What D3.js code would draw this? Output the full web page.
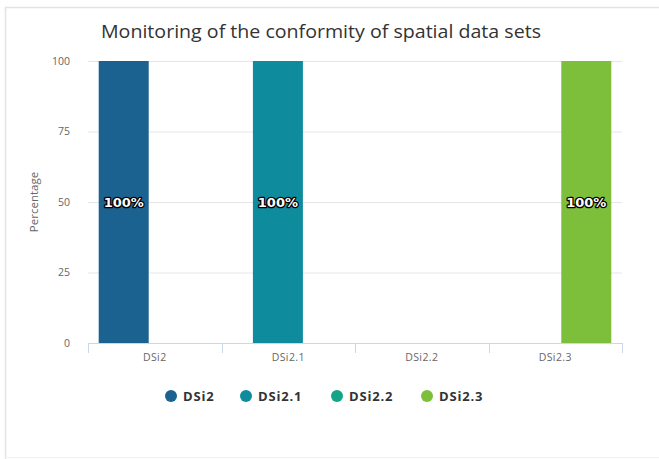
<!DOCTYPE html>
<html>
<head>
<meta charset="utf-8">
<script src="https://cdn.jsdelivr.net/npm/d3@7"></script>
<style>
  html, body { margin: 0; padding: 0; background: #fff; }
  svg { display: block; font-family: "Open Sans", "DejaVu Sans", sans-serif; }
</style>
</head>
<body>
<svg id="chart" width="659" height="459"></svg>
<script>
const categories = ["DSi2", "DSi2.1", "DSi2.2", "DSi2.3"];
const seriesNames = ["DSi2", "DSi2.1", "DSi2.2", "DSi2.3"];
const seriesColors = ["#1b6290", "#0e8c9e", "#14a589", "#7dbf3b"];
const valuesDSi2 = [100, null, null, null];
const valuesDSi21 = [null, 100, null, null];
const valuesDSi22 = [null, null, null, null];
const valuesDSi23 = [null, null, null, 100];
const yTicks = [0, 25, 50, 75, 100];
const titleText = "Monitoring of the conformity of spatial data sets";
const yTitle = "Percentage";

const seriesValues = [valuesDSi2, valuesDSi21, valuesDSi22, valuesDSi23];

const svg = d3.select("#chart");
const W = 659, H = 459;

// page frame
svg.append("line").attr("x1", 5).attr("x2", W).attr("y1", 7.5).attr("y2", 7.5).attr("stroke", "#e3e3e3").attr("stroke-width", 1.5);
svg.append("line").attr("x1", 5.5).attr("x2", 5.5).attr("y1", 7).attr("y2", H).attr("stroke", "#e3e3e3").attr("stroke-width", 1.5);
svg.append("line").attr("x1", 5).attr("x2", W).attr("y1", 457.5).attr("y2", 457.5).attr("stroke", "#f0f0f0").attr("stroke-width", 1);

const plot = { left: 88, right: 622, top: 61, bottom: 343 };

const x = d3.scaleBand().domain(categories).range([plot.left, plot.right]).padding(0);
const groupPadding = 0.19;
const xInner = d3.scaleBand().domain(seriesNames)
  .range([x.bandwidth() * groupPadding, x.bandwidth() * (1 - groupPadding)]).padding(0);
const y = d3.scaleLinear().domain([0, 100]).range([plot.bottom, plot.top]);
const pointWidth = 50;

// title
svg.append("text").attr("x", 321).attr("y", 38).attr("text-anchor", "middle")
  .attr("font-size", 17.5).attr("fill", "#333").attr("font-family", "'Open Sans', sans-serif")
  .attr("textLength", 440).attr("lengthAdjust", "spacingAndGlyphs")
  .text(titleText);

// gridlines
const yAxis = d3.axisLeft(y).tickValues(yTicks).tickSize(-(plot.right - plot.left)).tickPadding(18).tickFormat(d3.format("d"));
const gy = svg.append("g").attr("transform", `translate(${plot.left},0)`).call(yAxis);
gy.select(".domain").remove();
gy.selectAll(".tick line").attr("stroke", "#e6e6e6").attr("stroke-width", 1);
gy.selectAll(".tick text").attr("fill", "#666").attr("font-size", 10.5).attr("font-family", "'Open Sans', sans-serif");

// y title
svg.append("text").attr("transform", `translate(38,${(plot.top + plot.bottom) / 2}) rotate(-90)`)
  .attr("text-anchor", "middle").attr("font-size", 11.5).attr("fill", "#666").text(yTitle);

// bars
seriesNames.forEach((s, i) => {
  const vals = seriesValues[i];
  const g = svg.append("g");
  categories.forEach((c, j) => {
    const v = vals[j];
    if (v == null) return;
    const cx = x(c) + xInner(s) + xInner.bandwidth() / 2;
    g.append("rect")
      .attr("x", cx - pointWidth / 2).attr("width", pointWidth)
      .attr("y", y(v)).attr("height", y(0) - y(v))
      .attr("fill", seriesColors[i]);
    const ty = (y(v) + y(0)) / 2 + 5;
    g.append("text").attr("x", cx).attr("y", ty).attr("text-anchor", "middle")
      .attr("font-size", 13).attr("font-weight", "bold").attr("fill", "#fff")
      .attr("stroke", "#000").attr("stroke-width", 2.5).attr("stroke-linejoin", "round")
      .attr("paint-order", "stroke").attr("font-family", "'DejaVu Sans', sans-serif")
      .text(v + "%");
  });
});

// x axis
const xAxis = d3.axisBottom(x).tickSize(0).tickPadding(11);
const gx = svg.append("g").attr("transform", `translate(0,${plot.bottom})`).call(xAxis);
gx.select(".domain").attr("stroke", "#ccd6eb");
gx.selectAll(".tick text").attr("fill", "#666").attr("font-size", 10.5)
  .attr("letter-spacing", 0.4).attr("font-family", "'Open Sans', sans-serif");
// category boundary ticks
const boundaries = categories.map(c => x(c)).concat([plot.right]);
gx.selectAll(".btick").data(boundaries).enter().append("line").attr("class", "btick")
  .attr("x1", d => Math.round(d) + 0.5).attr("x2", d => Math.round(d) + 0.5)
  .attr("y1", 0).attr("y2", 10).attr("stroke", "#ccd6eb");

// legend
const legendX = [171, 246, 337, 427];
const lg = svg.append("g");
seriesNames.forEach((s, i) => {
  lg.append("circle").attr("cx", legendX[i]).attr("cy", 396).attr("r", 6).attr("fill", seriesColors[i]);
  lg.append("text").attr("x", legendX[i] + 12).attr("y", 400.5).attr("font-size", 13)
    .attr("letter-spacing", 0.8)
    .attr("font-weight", "bold").attr("fill", "#333").text(s);
});
</script>
</body>
</html>
